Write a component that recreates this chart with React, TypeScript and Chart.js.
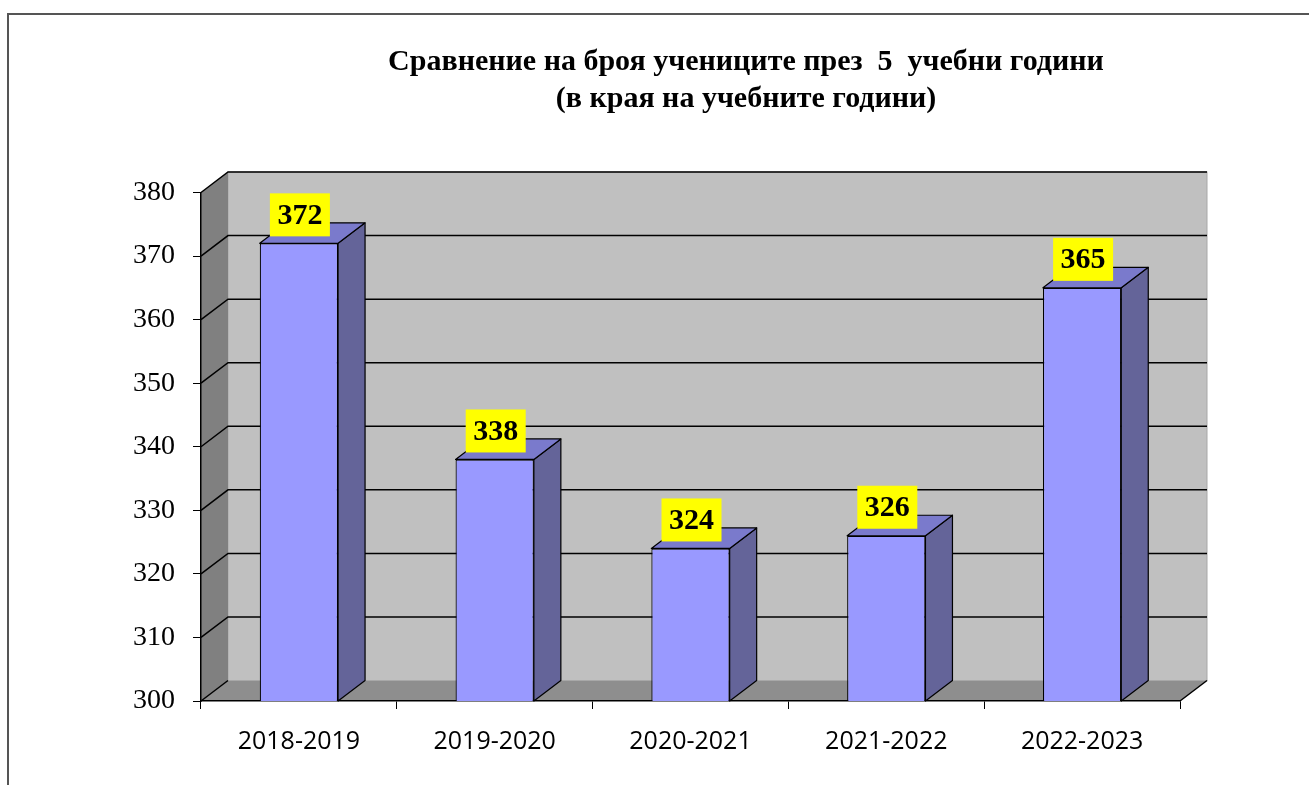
import React, { useEffect, useRef } from "react";
import { Chart, registerables } from "chart.js";

Chart.register(...registerables);

const titleLines = ["Сравнение на броя учениците през  5  учебни години", "(в края на учебните години)"];
const categories = ["2018-2019", "2019-2020", "2020-2021", "2021-2022", "2022-2023"];
const values = [372, 338, 324, 326, 365];
const yMin = 300;
const yMax = 380;
const yStep = 10;

const DX = 27;
const DY = 20.5;

const walls3d = {
  id: "walls3d",
  beforeDraw(chart: any) {
    const ctx = chart.ctx;
    const { left, right, top, bottom } = chart.chartArea;
    const ys = chart.scales.y;
    ctx.save();
    // outer frame
    ctx.strokeStyle = "#555";
    ctx.lineWidth = 2;
    ctx.beginPath();
    ctx.moveTo(8, 785);
    ctx.lineTo(8, 14);
    ctx.lineTo(1309, 14);
    ctx.stroke();
    // back wall
    ctx.fillStyle = "#c0c0c0";
    ctx.fillRect(left + DX, top - DY, right - left, bottom - top);
    ctx.strokeStyle = "#a8a8a8";
    ctx.lineWidth = 1;
    ctx.strokeRect(left + DX, top - DY, right - left, bottom - top);
    // side wall
    ctx.fillStyle = "#808080";
    ctx.beginPath();
    ctx.moveTo(left, top);
    ctx.lineTo(left + DX, top - DY);
    ctx.lineTo(left + DX, bottom - DY);
    ctx.lineTo(left, bottom);
    ctx.closePath();
    ctx.fill();
    // floor
    ctx.fillStyle = "#8e8e8e";
    ctx.beginPath();
    ctx.moveTo(left, bottom);
    ctx.lineTo(left + DX, bottom - DY);
    ctx.lineTo(right + DX, bottom - DY);
    ctx.lineTo(right, bottom);
    ctx.closePath();
    ctx.fill();
    ctx.strokeStyle = "#a8a8a8";
    ctx.lineWidth = 1;
    ctx.beginPath();
    ctx.moveTo(left + DX, bottom - DY);
    ctx.lineTo(right + DX, bottom - DY);
    ctx.stroke();
    // grid lines
    ctx.strokeStyle = "#000";
    ctx.lineWidth = 1.5;
    ys.ticks.forEach((t: any) => {
      if (t.value <= yMin) return;
      const y = ys.getPixelForValue(t.value);
      ctx.beginPath();
      ctx.moveTo(left, y);
      ctx.lineTo(left + DX, y - DY);
      ctx.lineTo(right + DX, y - DY);
      ctx.stroke();
    });
    // floor edges
    ctx.beginPath();
    ctx.moveTo(left, bottom);
    ctx.lineTo(left + DX, bottom - DY);
    ctx.moveTo(right, bottom);
    ctx.lineTo(right + DX, bottom - DY);
    ctx.stroke();
    ctx.restore();
  },
  afterDatasetsDraw(chart: any) {
    const ctx = chart.ctx;
    const meta = chart.getDatasetMeta(0);
    const bottom = chart.chartArea.bottom;
    ctx.save();
    ctx.strokeStyle = "#000";
    ctx.lineWidth = 1.2;
    ctx.lineJoin = "round";
    meta.data.forEach((el: any) => {
      const { x, y, width } = el.getProps(["x", "y", "width"], true);
      const base = bottom;
      const l = x - width / 2;
      const r = x + width / 2;
      // side face
      ctx.fillStyle = "#646499";
      ctx.beginPath();
      ctx.moveTo(r, y);
      ctx.lineTo(r + DX, y - DY);
      ctx.lineTo(r + DX, base - DY);
      ctx.lineTo(r, base);
      ctx.closePath();
      ctx.fill();
      ctx.stroke();
      // top face
      ctx.fillStyle = "#7a7acc";
      ctx.beginPath();
      ctx.moveTo(l, y);
      ctx.lineTo(l + DX, y - DY);
      ctx.lineTo(r + DX, y - DY);
      ctx.lineTo(r, y);
      ctx.closePath();
      ctx.fill();
      ctx.stroke();
    });
    // value labels
    ctx.font = "bold 30px 'Liberation Serif', 'Times New Roman', serif";
    ctx.textAlign = "center";
    ctx.textBaseline = "middle";
    meta.data.forEach((el: any, i: number) => {
      const { x, y } = el.getProps(["x", "y"], true);
      const txt = String(values[i]);
      const w = ctx.measureText(txt).width + 15;
      const h = 43;
      const cx = x + 1;
      const cy = y - 28.5;
      ctx.fillStyle = "#ffff00";
      ctx.fillRect(cx - w / 2, cy - h / 2, w, h);
      ctx.fillStyle = "#000";
      ctx.fillText(txt, cx, cy + 1);
    });
    ctx.restore();
  },
  afterDraw(chart: any) {
    const ctx = chart.ctx;
    ctx.save();
    ctx.font = "bold 30px 'Liberation Serif', 'Times New Roman', serif";
    ctx.fillStyle = "#000";
    ctx.textAlign = "center";
    ctx.textBaseline = "middle";
    ctx.fillText(titleLines[0], 746, 62);
    ctx.fillText(titleLines[1], 746, 99);
    ctx.restore();
  },
};

export default function App() {
  const ref = useRef<HTMLCanvasElement>(null);
  useEffect(() => {
    if (!ref.current) return;
    const chart = new Chart(ref.current, {
      type: "bar",
      data: {
        labels: categories,
        datasets: [
          {
            data: values,
            backgroundColor: "#9999ff",
            borderColor: "#000",
            borderWidth: 1.2,
            borderSkipped: false,
            barPercentage: 0.4,
            categoryPercentage: 1,
          },
        ],
      },
      options: {
        responsive: false,
        animation: false,
        layout: { padding: { left: 121, right: 129, top: 192.5, bottom: 0 } },
        plugins: { legend: { display: false }, title: { display: false }, tooltip: { enabled: false } },
        scales: {
          x: {
            afterFit: (s: any) => {
              s.height = 84;
            },
            grid: { drawOnChartArea: false, drawTicks: true, tickLength: 8, color: "#000", offset: true },
            border: { display: true, color: "#000", width: 1.5 },
            ticks: { color: "#000", padding: 18, font: { family: "'Open Sans'", size: 25 } },
          },
          y: {
            min: yMin,
            max: yMax,
            afterFit: (s: any) => {
              s.width = 80;
            },
            grid: { drawOnChartArea: false, drawTicks: true, tickLength: 8, color: "#000" },
            border: { display: true, color: "#000", width: 1.5 },
            ticks: {
              stepSize: yStep,
              color: "#000",
              padding: 18,
              font: { family: "'Liberation Serif'", size: 28 },
            },
          },
        },
      },
      plugins: [walls3d],
    });
    return () => chart.destroy();
  }, []);
  return (
    <div style={{ position: "fixed", left: 0, top: 0, width: 1309, height: 785 }}>
      <canvas ref={ref} width={1309} height={785} style={{ display: "block" }} />
    </div>
  );
}
